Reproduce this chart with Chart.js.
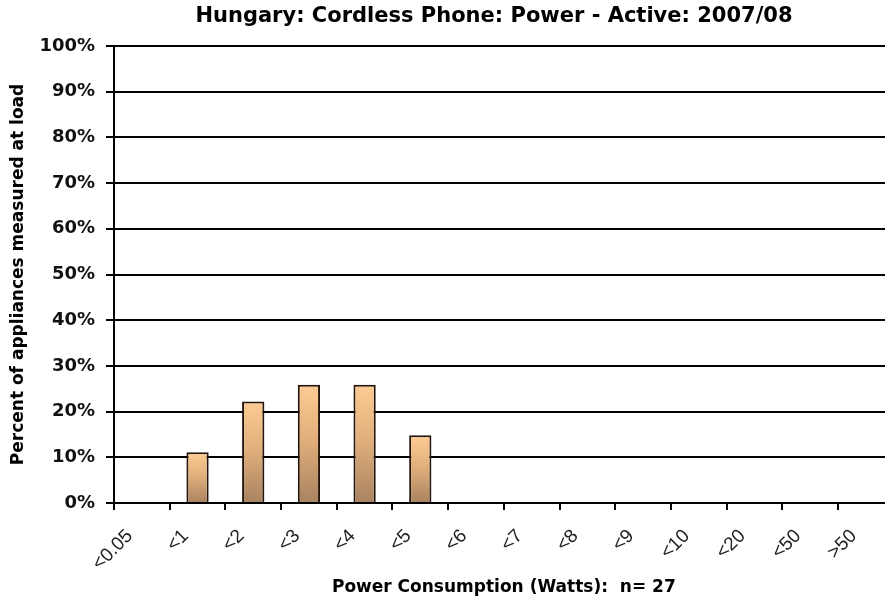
<!DOCTYPE html>
<html>
<head>
<meta charset="utf-8">
<script src="https://cdn.jsdelivr.net/npm/chart.js@4/dist/chart.umd.min.js"></script>
<style>
  html, body { margin: 0; padding: 0; background: #fff; overflow: hidden; }
  #wrap { width: 897px; height: 605px; }
</style>
</head>
<body>
<div id="wrap"><canvas id="c" width="897" height="605"></canvas></div>
<script>
const chartTitle = "Hungary: Cordless Phone: Power - Active: 2007/08";
const categories = ["<0.05", "<1", "<2", "<3", "<4", "<5", "<6", "<7", "<8", "<9", "<10", "<20", "<50", ">50"];
const percentValues = [0, 11.1, 22.2, 25.9, 25.9, 14.8, 0, 0, 0, 0, 0, 0, 0, 0];
const yTickValues = [0, 10, 20, 30, 40, 50, 60, 70, 80, 90, 100];
const xAxisTitle = "Power Consumption (Watts):  n= 27";
const yAxisTitle = "Percent of appliances measured at load";

const titlePlugin = {
  id: 'customTitle',
  afterDraw(chart) {
    const ctx = chart.ctx;
    ctx.save();
    ctx.font = 'bold 21px "DejaVu Sans", Verdana, sans-serif';
    ctx.fillStyle = '#000';
    ctx.textAlign = 'center';
    ctx.textBaseline = 'middle';
    ctx.fillText(chartTitle, 494, 17);
    ctx.restore();
  }
};

function barGradient(context) {
  const chart = context.chart;
  if (!chart.chartArea) return '#e8b47e';
  const ys = chart.scales.y;
  const v = context.raw || 0;
  const top = ys.getPixelForValue(v);
  const bottom = ys.getPixelForValue(0);
  if (bottom - top < 1) return '#e8b47e';
  const g = chart.ctx.createLinearGradient(0, top, 0, bottom);
  g.addColorStop(0, '#fdcb92');
  g.addColorStop(0.45, '#e2b07c');
  g.addColorStop(1, '#a98360');
  return g;
}

new Chart(document.getElementById('c'), {
  type: 'bar',
  data: {
    labels: categories,
    datasets: [{
      data: percentValues,
      backgroundColor: barGradient,
      borderColor: '#24160c',
      borderWidth: 2,
      categoryPercentage: 1.0,
      barPercentage: 0.4
    }]
  },
  options: {
    responsive: false,
    animation: false,
    layout: { padding: { top: 46, right: 2, left: 0, bottom: 0 } },
    plugins: {
      legend: { display: false },
      tooltip: { enabled: false },
      title: { display: false }
    },
    scales: {
      x: {
        offset: true,
        afterFit: s => { s.height = 102; },
        grid: { display: true, drawOnChartArea: false, offset: true, tickLength: 7, color: '#000', lineWidth: 2 },
        border: { display: true, color: '#000', width: 2 },
        ticks: {
          autoSkip: false, maxRotation: 45, minRotation: 45,
          padding: 15, labelOffset: -12,
          color: '#222',
          font: { family: '"Liberation Sans", Arial, sans-serif', size: 19 }
        },
        title: {
          display: true, text: xAxisTitle, color: '#000',
          font: { family: '"DejaVu Sans", Verdana, sans-serif', size: 17, weight: 'bold' },
          padding: { top: 0, bottom: 7 }
        }
      },
      y: {
        min: 0, max: 100,
        afterFit: s => { s.width = 114; },
        afterBuildTicks: s => { s.ticks = yTickValues.map(v => ({ value: v })); },
        grid: { color: '#000', lineWidth: 2, tickLength: 8 },
        border: { display: true, color: '#000', width: 2 },
        ticks: {
          padding: 11,
          color: '#111',
          callback: v => v + '%',
          font: { family: '"DejaVu Sans", Verdana, sans-serif', size: 18, weight: 'bold' }
        },
        title: {
          display: true, text: yAxisTitle, color: '#000',
          font: { family: '"DejaVu Sans", Verdana, sans-serif', size: 17, weight: 'bold' },
          padding: { top: 8, bottom: 0 }
        }
      }
    }
  },
  plugins: [titlePlugin]
});
</script>
</body>
</html>
